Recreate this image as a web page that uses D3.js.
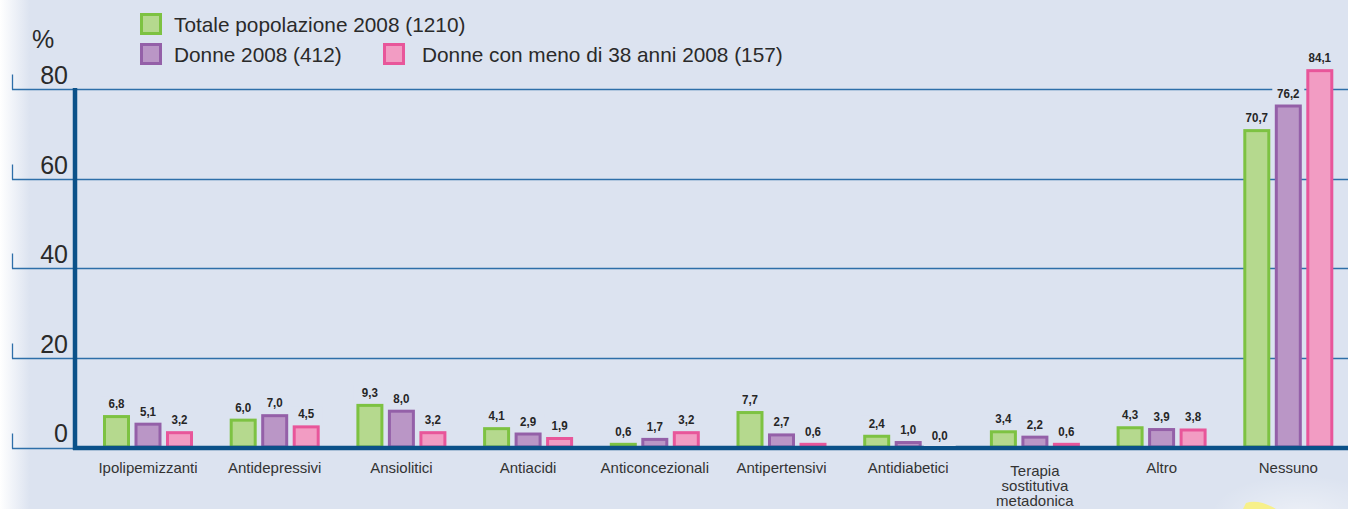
<!DOCTYPE html>
<html>
<head>
<meta charset="utf-8">
<script src="https://cdn.jsdelivr.net/npm/d3@7"></script>
<style>
  html, body { margin: 0; padding: 0; background: #dce3f0; }
  svg { display: block; }
</style>
</head>
<body>
<script>
const categories = ["Ipolipemizzanti","Antidepressivi","Ansiolitici","Antiacidi","Anticoncezionali","Antipertensivi","Antidiabetici","Terapia sostitutiva metadonica","Altro","Nessuno"];
const totale = [6.8, 6.0, 9.3, 4.1, 0.6, 7.7, 2.4, 3.4, 4.3, 70.7];
const donne = [5.1, 7.0, 8.0, 2.9, 1.7, 2.7, 1.0, 2.2, 3.9, 76.2];
const donneUnder38 = [3.2, 4.5, 3.2, 1.9, 3.2, 0.6, 0.0, 0.6, 3.8, 84.1];
const seriesNames = ["Totale popolazione 2008 (1210)", "Donne 2008 (412)", "Donne con meno di 38 anni 2008 (157)"];
const yTicks = [0, 20, 40, 60, 80];

const W = 1348, H = 509;
const bg = "#dce3f0";
const fills = ["#b5d98e", "#ba96c6", "#f29cc3"];
const strokes = ["#7dc242", "#9460a8", "#e8569a"];
const series = [totale, donne, donneUnder38];

const svg = d3.select("body").append("svg").attr("width", W).attr("height", H);
const defs = svg.append("defs");
const lg = defs.append("linearGradient").attr("id", "leftfade").attr("x1", 0).attr("x2", 1).attr("y1", 0).attr("y2", 0);
lg.append("stop").attr("offset", 0).attr("stop-color", "#ffffff");
lg.append("stop").attr("offset", 0.022).attr("stop-color", bg);
lg.append("stop").attr("offset", 1).attr("stop-color", bg);
const rg = defs.append("radialGradient").attr("id", "glow").attr("cx", 0.5).attr("cy", 0.5).attr("r", 0.5);
rg.append("stop").attr("offset", 0).attr("stop-color", "#ffffff").attr("stop-opacity", 0.45);
rg.append("stop").attr("offset", 1).attr("stop-color", "#ffffff").attr("stop-opacity", 0);

svg.append("rect").attr("width", W).attr("height", H).attr("fill", "url(#leftfade)");
svg.append("ellipse").attr("cx", 1300).attr("cy", 515).attr("rx", 90).attr("ry", 40).attr("fill", "url(#glow)");
svg.append("path").attr("d", "M1243,509 L1246,503 C1255,500 1266,503 1276,509 Z").attr("fill", "#f7f08a");

const y = d3.scaleLinear().domain([0, 80]).range([447, 89]);
const x = d3.scaleBand().domain(categories).range([76, 76 + 10 * 126.7]).padding(0);
const xs = d3.scaleBand().domain([0, 1, 2]).range([27, 117]).paddingInner(0.143).paddingOuter(0);

// gridlines + left ticks
const grid = svg.append("g");
yTicks.forEach(t => {
  const gy = Math.round(y(t)) + 0.5 + (t === 0 ? 1 : 0);
  grid.append("line").attr("x1", 12).attr("x2", W).attr("y1", gy).attr("y2", gy)
    .attr("stroke", "#2e6fa9").attr("stroke-width", 1.3);
  grid.append("line").attr("x1", 12.5).attr("x2", 12.5).attr("y1", gy - 15).attr("y2", gy)
    .attr("stroke", "#2e6fa9").attr("stroke-width", 1.3);
  grid.append("text").attr("x", 68).attr("y", y(t) - 5).attr("text-anchor", "end")
    .attr("font-family", "Liberation Sans, Arial, sans-serif").attr("font-size", 25).attr("fill", "#2a2a2a")
    .text(t);
});
svg.append("text").attr("x", 32).attr("y", 48).attr("font-family", "Liberation Sans, Arial, sans-serif")
  .attr("font-size", 25).attr("fill", "#2a2a2a").text("%");

// bars
const groups = svg.append("g").selectAll("g").data(categories).join("g")
  .attr("transform", d => `translate(${x(d)},0)`);
series.forEach((vals, si) => {
  groups.filter((d, i) => vals[i] > 0).append("rect")
    .attr("x", xs(si) + 1.5)
    .attr("width", xs.bandwidth() - 3)
    .attr("y", (d) => y(vals[categories.indexOf(d)]))
    .attr("height", (d) => y(0) - y(vals[categories.indexOf(d)]))
    .attr("fill", fills[si]).attr("stroke", strokes[si]).attr("stroke-width", 3);
});

// axes (thick)
svg.append("line").attr("x1", 75).attr("x2", 75).attr("y1", 88).attr("y2", 450).attr("stroke", "#0b5189").attr("stroke-width", 4.5);
svg.append("line").attr("x1", 73).attr("x2", W).attr("y1", 448).attr("y2", 448).attr("stroke", "#0b5189").attr("stroke-width", 4.5);

// value labels
const fmt = v => v.toFixed(1).replace(".", ",");
const labelG = svg.append("g");
const labels = [];
series.forEach((vals, si) => {
  categories.forEach((c, i) => {
    const v = vals[i];
    const cx = x(c) + xs(si) + xs.bandwidth() / 2;
    const base = (v > 0 ? y(v) - 1.5 : y(0)) - 7;
    labels.push({cx, base, text: fmt(v)});
  });
});
labelG.selectAll("rect").data(labels).join("rect")
  .attr("x", d => d.cx - 16).attr("width", 32)
  .attr("y", d => d.base - 12).attr("height", 18)
  .attr("fill", bg);
labelG.selectAll("text").data(labels).join("text")
  .attr("transform", d => `translate(${d.cx},${d.base}) scale(0.85,1)`)
  .attr("text-anchor", "middle")
  .attr("font-family", "Liberation Sans, Arial, sans-serif")
  .attr("font-weight", "bold").attr("font-size", 13.6).attr("fill", "#262626")
  .text(d => d.text);

// category labels
svg.append("g").selectAll("text").data(categories).join("text")
  .attr("transform", d => `translate(${x(d) + 72},${d.includes(" ") ? 475.5 : 473})`)
  .attr("text-anchor", "middle")
  .attr("font-family", "Liberation Sans, Arial, sans-serif").attr("font-size", 15).attr("fill", "#333")
  .each(function(d) {
    const words = d.split(" ");
    const t = d3.select(this);
    words.forEach((w, k) => t.append("tspan").attr("x", 0).attr("dy", k === 0 ? 0 : 15.2).text(w));
  });

// legend
const legendPos = [[140, 13], [140, 43], [383, 43]];
const legendTextX = [174, 174, 422];
const leg = svg.append("g");
seriesNames.forEach((name, i) => {
  leg.append("rect").attr("x", legendPos[i][0] + 1.5).attr("y", legendPos[i][1] + 1.5).attr("width", 19).attr("height", 19)
    .attr("fill", fills[i]).attr("stroke", strokes[i]).attr("stroke-width", 3);
  leg.append("text").attr("x", legendTextX[i]).attr("y", legendPos[i][1] + 19)
    .attr("font-family", "Liberation Sans, Arial, sans-serif").attr("font-size", 20.8).attr("fill", "#2a2a2a")
    .text(name);
});
</script>
</body>
</html>
